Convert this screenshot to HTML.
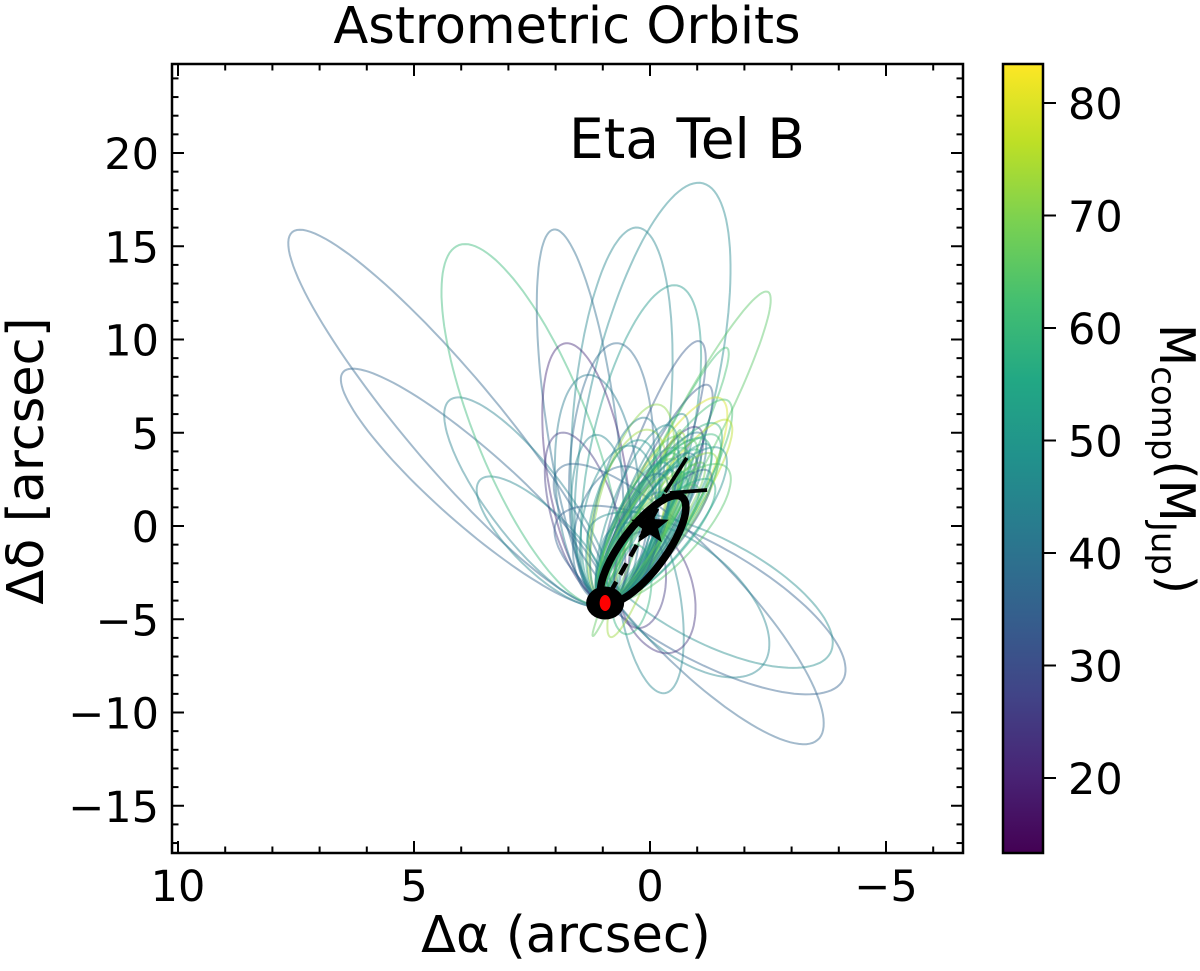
<!DOCTYPE html>
<html lang="en">
<head>
<meta charset="utf-8">
<title>Astrometric Orbits</title>
<style>
html,body{margin:0;padding:0;background:#fff;width:1200px;height:971px;overflow:hidden}
svg{display:block;font-family:"DejaVu Sans","Liberation Sans",sans-serif;fill:#000}
</style>
</head>
<body>
<svg id="chart" xmlns="http://www.w3.org/2000/svg" width="1200" height="971" viewBox="0 0 1200 971">
  <defs>
    <linearGradient id="viridis" x1="0" y1="1" x2="0" y2="0"></linearGradient>
    <clipPath id="plot-clip"><rect x="172" y="64" width="791" height="789"></rect></clipPath>
  </defs>
  <rect x="0" y="0" width="1200" height="971" fill="#fff"></rect>
  <text x="567" y="43" font-size="51" text-anchor="middle">Astrometric Orbits</text>
  <g id="orbits" clip-path="url(#plot-clip)"></g>
  <g id="best"></g>
  <g id="axes"></g>
  <text x="687" y="158" font-size="55" text-anchor="middle">Eta Tel B</text>
  <text x="566" y="952" font-size="51" text-anchor="middle">Δα (arcsec)</text>
  <text transform="translate(43,461) rotate(-90)" font-size="51" text-anchor="middle">Δδ [arcsec]</text>
  <rect id="cbar" x="1003" y="64" width="40" height="789" fill="url(#viridis)" stroke="#000" stroke-width="2.5"></rect>
  <g id="cbar-ticks"></g>
  <text transform="translate(1160,459) rotate(90)" font-size="49" text-anchor="middle">M<tspan font-size="34" dy="8">comp</tspan><tspan dy="-8">(M</tspan><tspan font-size="34" dy="8">Jup</tspan><tspan dy="-8">)</tspan></text>
</svg>
<script>
// Axis tick values
const xTickLabels = [10, 5, 0, -5];
const yTickLabels = [-15, -10, -5, 0, 5, 10, 15, 20];
const cbarTickLabels = [20, 30, 40, 50, 60, 70, 80];
const viridisStops = ['#440154','#482475','#414487','#355f8d','#2a788e','#21918c','#22a884','#44bf70','#7ad151','#bddf26','#fde725'];

// Orbit sample: far point, opposite point and side half-axis (arcsec), companion mass (MJup)
const tipRa = [7.58,6.5,4.24,3.6,4.1,-1.06,0.25,2.0,-0.57,-2.5,1.74,0.68,-1.06,-1.63,-1.23,1.27,1.8,1.1,-1.48,-1.63,-1.65,-1.38,-0.2,0,-1.0,
  -4.09,-3.65,-3.86,-2.5,-0.32,-0.42,0.21,0.47,1.21,0.8,
  -0.8,-1.0,-0.6,-0.9,-1.2,-0.7,-0.5,-1.1,-0.9,-0.45,-1.3,-0.6,-0.5,-1.05,-0.75,-0.55,-1.35,-1.2,-0.85,-0.5,-0.3,0.2,0.4,-0.95,-0.65,-1.45,-1.1,-0.4,0.1,-0.7,-1.5,-0.35,-1.25,-0.25,-0.2,0.5,-0.95,-0.7,-0.9];
const tipDec = [15.76,8.26,6.76,2.47,15.0,18.4,16,15.9,12.9,12.55,9.8,9.8,9.9,9.55,7.56,8.1,5,4.88,6.86,6.75,5.68,5.5,6.5,5.15,5.3,
  -8.26,-11.1,-6.54,-6.9,-8.96,-6.81,-5.47,-5.8,-5.9,-5.95,
  3.6,4.1,3.2,4.6,4.4,4.2,3.9,3.4,2.9,3.0,3.9,4.8,4.2,5.0,2.6,2.3,4.9,3.0,3.9,3.6,3.4,4.6,4.3,2.2,1.9,4.2,4.7,5.4,5.8,6.0,3.3,2.6,2.5,1.8,2.8,3.2,3.3,2.9,3.7];
const tailRa = [0.95,0.95,0.95,0.95,0.95,0.95,0.95,0.95,0.95,0.95,0.95,0.95,0.95,0.95,0.95,0.95,0.95,0.95,0.95,0.95,0.95,0.95,0.95,0.95,0.95,
  1.97,2.01,1.31,1.02,0.32,0.21,0.21,0.32,-0.64,-0.64,
  0.95,0.95,0.95,0.95,0.95,0.95,0.95,0.95,0.95,0.95,0.95,0.95,0.95,0.95,0.95,0.95,0.95,0.95,0.95,0.95,0.95,0.95,0.95,0.95,0.95,0.95,0.95,0.95,0.95,0.95,0.95,0.95,0.95,0.95,0.95,0.95,0.95,0.95,0.95];
const tailDec = [-4.13,-4.13,-4.13,-4.13,-4.13,-4.13,-4.13,-4.13,-4.13,-4.13,-4.13,-4.13,-4.13,-4.13,-4.13,-4.13,-4.13,-4.13,-4.13,-4.13,-4.13,-4.13,-4.13,-4.13,-4.13,
  0.32,2.73,-0.32,-1.0,1.0,0,-0.32,-1.0,5.15,5.0,
  -4.13,-4.13,-4.13,-4.13,-4.13,-4.13,-4.13,-4.13,-4.13,-4.13,-4.13,-4.13,-4.13,-4.13,-4.13,-4.13,-4.13,-4.13,-4.13,-4.13,-4.13,-4.13,-4.13,-4.13,-4.13,-4.13,-4.13,-4.13,-4.13,-4.13,-4.13,-4.13,-4.13,-4.13,-4.13,-4.13,-4.13,-4.13,-4.13];
const sideRa = [-0.75,-0.53,-0.64,-0.44,-1.05,1.31,1.02,0.76,1.02,0.45,0.85,0.89,0.51,0.32,0.47,0.89,0.74,0.64,0.64,0.55,0.5,0.6,0.68,0.7,0.51,
  0.57,-0.42,-0.25,-0.32,-0.64,-0.8,-0.55,-0.42,0.12,-0.4,
  0.35,0.4,0.3,0.45,0.5,0.48,0.42,0.38,0.35,0.38,0.55,0.52,0.5,0.55,0.3,0.31,0.62,0.5,0.56,0.52,0.52,0.68,0.76,0.42,0.38,0.68,0.68,0.56,0.62,0.44,0.75,0.44,0.56,0.44,0.52,0.88,0.25,0.2,0.15];
const sideDec = [1.6,1.5,1.23,1.13,1.5,0.27,0.32,0.27,0.43,0.6,0.16,0.21,0.48,0.43,0.43,0.21,0.27,0.2,0.64,0.6,0.5,0.5,0.43,0.4,0.43,
  -2.68,2.95,2.79,2.95,0.27,0.27,0.16,0.1,0.1,0.3,
  0.26,0.3,0.24,0.3,0.34,0.26,0.26,0.28,0.26,0.26,0.38,0.3,0.26,0.38,0.24,0.26,0.42,0.34,0.3,0.26,0.24,0.22,0.2,0.3,0.26,0.46,0.38,0.3,0.26,0.32,0.46,0.26,0.42,0.26,0.22,0.18,0.18,0.16,0.14];
const orbitMass = [36,36,44,45,60,46,45,38,50,65,22,37,33,62,33,42,25,45,79,62,76,58,71,73,25,
  35,36,47,45,45,24,25,58,66,73,
  60,55,48,65,52,62,58,68,50,44,72,66,60,42,57,70,60,35,40,65,55,50,47,62,52,48,58,47,43,45,64,68,56,46,42,38,66,58,50];

// Best-fit orbit and markers (arcsec)
const bestTip = [-0.64, 1.6];
const bestTail = [0.93, -4.1];
const bestSide = [0.45, 0.45];
const starPos = [0, 0];
const companionPos = [0.95, -4.13];
const trackOneRa = [-0.78, -0.32];
const trackOneDec = [3.65, 1.82];
const trackTwoRa = [-1.21, -0.42];
const trackTwoDec = [1.93, 1.77];
const separationRa = [0.85, -0.32];
const separationDec = [-3.6, 1.7];

const massMin = 13.3, massMax = 83.5;

function xScale(ra) { return 650 - ra * 47.2; }
function yScale(dec) { return 526 - dec * 18.65; }
function massScale(m) { return 778 - (m - 20) * 11.25; }

function hex(c) { return [1,3,5].map(function(i){ return parseInt(c.substr(i,2),16); }); }
function viridis(t) {
  t = Math.max(0, Math.min(1, t)) * (viridisStops.length - 1);
  var i = Math.min(Math.floor(t), viridisStops.length - 2), f = t - i;
  var a = hex(viridisStops[i]), b = hex(viridisStops[i+1]);
  return 'rgb(' + a.map(function(v,k){ return Math.round(v + (b[k]-v)*f); }).join(',') + ')';
}
function mk(tag, attrs, parent) {
  var el = document.createElementNS('http://www.w3.org/2000/svg', tag);
  for (var k in attrs) el.setAttribute(k, attrs[k]);
  parent.appendChild(el);
  return el;
}
function ellipsePath(tip, tail, side) {
  var cx = (tip[0] + tail[0]) / 2, cy = (tip[1] + tail[1]) / 2;
  var ax = (tip[0] - tail[0]) / 2, ay = (tip[1] - tail[1]) / 2;
  var d = '';
  for (var s = 0; s <= 120; s++) {
    var t = s / 120 * 2 * Math.PI;
    var ra = cx + ax * Math.cos(t) + side[0] * Math.sin(t);
    var dec = cy + ay * Math.cos(t) + side[1] * Math.sin(t);
    d += (s ? 'L' : 'M') + xScale(ra).toFixed(1) + ' ' + yScale(dec).toFixed(1);
  }
  return d + 'Z';
}
function linePath(ras, decs) {
  return ras.map(function(r, i){ return (i ? 'L' : 'M') + xScale(r).toFixed(1) + ' ' + yScale(decs[i]).toFixed(1); }).join('');
}

// Colorbar gradient
var grad = document.getElementById('viridis');
viridisStops.forEach(function(c, i){
  mk('stop', {offset: (i / (viridisStops.length - 1)), 'stop-color': c}, grad);
});

// Orbits
var gOrb = document.getElementById('orbits');
orbitMass.forEach(function(m, i){
  var p = mk('path', {
    d: ellipsePath([tipRa[i], tipDec[i]], [tailRa[i], tailDec[i]], [sideRa[i], sideDec[i]]),
    fill: 'none',
    stroke: viridis((m - massMin) / (massMax - massMin)),
    'stroke-width': 2,
    'stroke-opacity': 0.45
  }, gOrb);
  
  
});

// Best-fit overlay
var gBest = document.getElementById('best');
var bestOrbit = mk('path', {d: ellipsePath(bestTip, bestTail, bestSide), fill: 'none', stroke: '#000', 'stroke-width': 7.5}, gBest);


var sepLine = mk('path', {d: linePath(separationRa, separationDec), fill: 'none', stroke: '#000', 'stroke-width': 4.5, 'stroke-dasharray': '13 8'}, gBest);


var trackOne = mk('path', {d: linePath(trackOneRa, trackOneDec), fill: 'none', stroke: '#000', 'stroke-width': 3.8}, gBest);


var trackTwo = mk('path', {d: linePath(trackTwoRa, trackTwoDec), fill: 'none', stroke: '#000', 'stroke-width': 3.8}, gBest);



var sx = xScale(starPos[0]), sy = yScale(starPos[1]);
var starPts = [];
for (var k = 0; k < 10; k++) {
  var r = k % 2 ? 8.5 : 20, th = -Math.PI / 2 + k * Math.PI / 5;
  starPts.push((sx + r * Math.cos(th)).toFixed(1) + ',' + (sy + r * Math.sin(th)).toFixed(1));
}
var star = mk('polygon', {points: starPts.join(' '), fill: '#000'}, gBest);


var compOuter = mk('ellipse', {cx: xScale(companionPos[0]), cy: yScale(companionPos[1]), rx: 19, ry: 16.5, fill: '#000'}, gBest);


var compInner = mk('ellipse', {cx: xScale(companionPos[0]), cy: yScale(companionPos[1]), rx: 5.5, ry: 8, fill: '#f00'}, gBest);



// Axes
var gAx = document.getElementById('axes');
var L = 172, R = 963, T = 64, B = 853;
var frame = mk('rect', {x: L, y: T, width: R - L, height: B - T, fill: 'none', stroke: '#000', 'stroke-width': 2.5}, gAx);


function tickLine(x1, y1, x2, y2, parent, name) {
  var l = mk('line', {x1: x1, y1: y1, x2: x2, y2: y2, stroke: '#000', 'stroke-width': 2}, parent);
  
  
}
for (var v = -6; v <= 10; v++) {
  var px = xScale(v), major = v % 5 === 0, len = major ? 12 : 6.5;
  tickLine(px, B, px, B - len, gAx, major ? 'x-major-tick' : 'x-minor-tick');
  tickLine(px, T, px, T + len, gAx, major ? 'x-major-tick-top' : 'x-minor-tick-top');
}
for (var w = -17; w <= 24; w++) {
  var py = yScale(w), maj = w % 5 === 0, ln = maj ? 12 : 6.5;
  tickLine(L, py, L + ln, py, gAx, maj ? 'y-major-tick' : 'y-minor-tick');
  tickLine(R, py, R - ln, py, gAx, maj ? 'y-major-tick-right' : 'y-minor-tick-right');
}
function fmt(n) { return n < 0 ? '\u2212' + Math.abs(n) : String(n); }
xTickLabels.forEach(function(n){
  var t = mk('text', {x: xScale(n), y: 901, 'font-size': 43, 'text-anchor': 'middle'}, gAx);
  t.textContent = fmt(n);
  
  
});
yTickLabels.forEach(function(n){
  var t = mk('text', {x: 159, y: yScale(n) + 16, 'font-size': 43, 'text-anchor': 'end'}, gAx);
  t.textContent = fmt(n);
  
  
});

// Colorbar ticks
var gCb = document.getElementById('cbar-ticks');
cbarTickLabels.forEach(function(n){
  var y = massScale(n);
  tickLine(1043, y, 1056, y, gCb, 'colorbar-tick');
  var t = mk('text', {x: 1068, y: y + 16, 'font-size': 43}, gCb);
  t.textContent = String(n);
  
  
});
</script>
</body>
</html>
